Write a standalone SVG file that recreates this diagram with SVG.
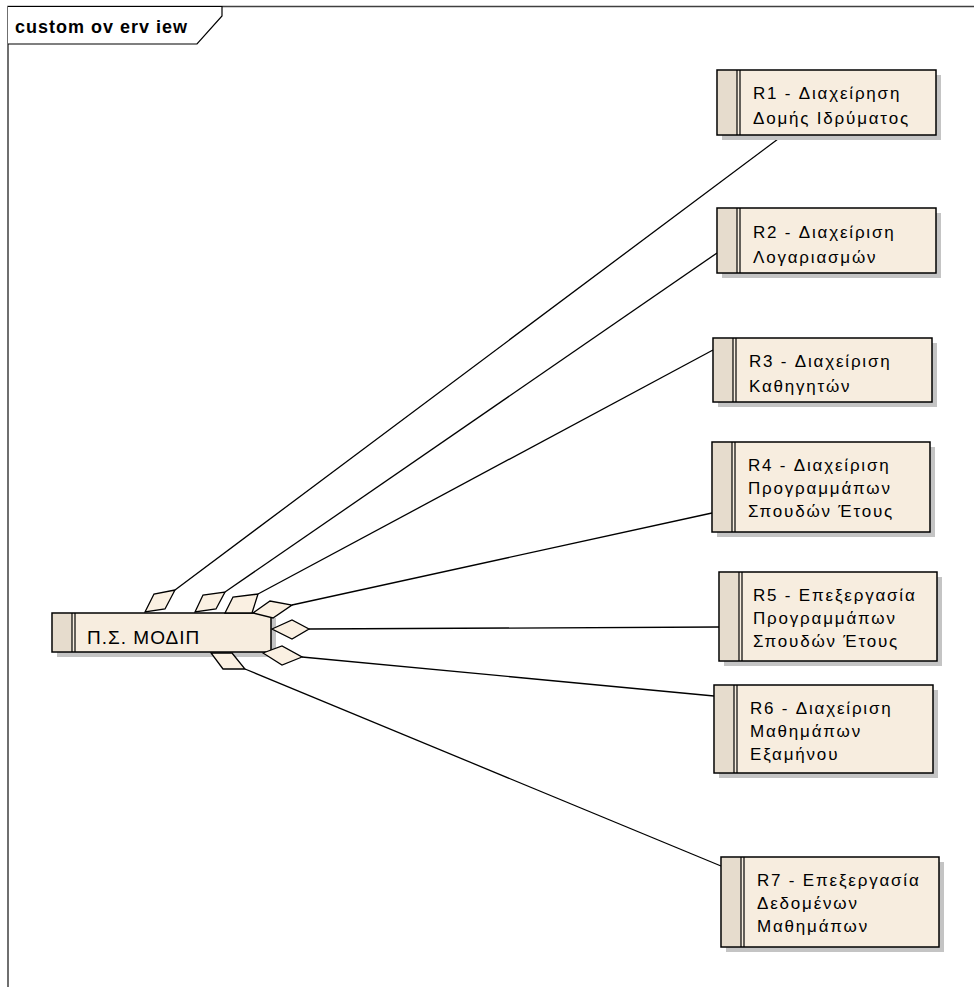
<svg xmlns="http://www.w3.org/2000/svg" width="974" height="987" viewBox="0 0 974 987">
<style>
.frame{fill:none;stroke:#404040;stroke-width:1.5}
.shadow{fill:#c4c4c4}
.body{fill:#f7eddf;stroke:#000;stroke-width:1.5}
.side{fill:#e6dccd;stroke:none}
.bar{stroke:#000;stroke-width:1.2}
.lbl{font-family:"Liberation Sans",Arial,sans-serif;font-size:17px;letter-spacing:1.8px;fill:#000}
.conn line{stroke:#000;stroke-width:1.3}
.dia{fill:#faf0e2;stroke:#000;stroke-width:1.3;stroke-linejoin:miter}
</style>
<rect width="974" height="987" fill="#fff"/>
<g id="frame">
<path class="frame" d="M8,987 V6.5 H974"/>
<path d="M8,6.5 H222 V16 L197,44 H8" fill="#fff" stroke="#000" stroke-width="1.2"/>
<text x="15" y="33" font-family="Liberation Sans,Arial,sans-serif" font-size="18" font-weight="bold" letter-spacing="1">custom ov erv iew</text>
</g>
<g id="connectors" class="conn">
<line x1="175" y1="590" x2="782" y2="136"/>
<line x1="225" y1="592" x2="717" y2="253"/>
<line x1="258" y1="594" x2="713" y2="350"/>
<line x1="292" y1="605" x2="712" y2="513"/>
<line x1="309" y1="629" x2="719" y2="627"/>
<line x1="302" y1="657" x2="714" y2="696"/>
<line x1="245" y1="669" x2="721" y2="866"/>
</g>
<g id="R1">
<rect class="shadow" x="722" y="75" width="219" height="65"/>
<rect class="body" x="717" y="70" width="219" height="65"/>
<rect class="side" x="718" y="71" width="19" height="63"/>
<line class="bar" x1="737" y1="70" x2="737" y2="135"/><line class="bar" x1="740" y1="70" x2="740" y2="135"/>
<text class="lbl" x="753" y="99">R1 - Διαχείρηση</text>
<text class="lbl" x="753" y="124">Δομής Ιδρύματος</text>
</g>
<g id="R2">
<rect class="shadow" x="722" y="213" width="219" height="65"/>
<rect class="body" x="717" y="208" width="219" height="65"/>
<rect class="side" x="718" y="209" width="19" height="63"/>
<line class="bar" x1="737" y1="208" x2="737" y2="273"/><line class="bar" x1="740" y1="208" x2="740" y2="273"/>
<text class="lbl" x="753" y="238">R2 - Διαχείριση</text>
<text class="lbl" x="753" y="263">Λογαριασμών</text>
</g>
<g id="R3">
<rect class="shadow" x="718" y="343" width="219" height="64"/>
<rect class="body" x="713" y="338" width="219" height="64"/>
<rect class="side" x="714" y="339" width="19" height="62"/>
<line class="bar" x1="733" y1="338" x2="733" y2="402"/><line class="bar" x1="736" y1="338" x2="736" y2="402"/>
<text class="lbl" x="749" y="367">R3 - Διαχείριση</text>
<text class="lbl" x="749" y="392">Καθηγητών</text>
</g>
<g id="R4">
<rect class="shadow" x="717" y="447" width="218" height="90"/>
<rect class="body" x="712" y="442" width="218" height="90"/>
<rect class="side" x="713" y="443" width="19" height="88"/>
<line class="bar" x1="732" y1="442" x2="732" y2="532"/><line class="bar" x1="735" y1="442" x2="735" y2="532"/>
<text class="lbl" x="748" y="471">R4 - Διαχείριση</text>
<text class="lbl" x="748" y="494">Προγραμμάπων</text>
<text class="lbl" x="748" y="517">Σπουδών Έτους</text>
</g>
<g id="R5">
<rect class="shadow" x="724" y="577" width="218" height="89"/>
<rect class="body" x="719" y="572" width="218" height="89"/>
<rect class="side" x="720" y="573" width="19" height="87"/>
<line class="bar" x1="739" y1="572" x2="739" y2="661"/><line class="bar" x1="742" y1="572" x2="742" y2="661"/>
<text class="lbl" x="753" y="601">R5 - Επεξεργασία</text>
<text class="lbl" x="753" y="624">Προγραμμάπων</text>
<text class="lbl" x="753" y="647">Σπουδών Έτους</text>
</g>
<g id="R6">
<rect class="shadow" x="719" y="690" width="219" height="88"/>
<rect class="body" x="714" y="685" width="219" height="88"/>
<rect class="side" x="715" y="686" width="19" height="86"/>
<line class="bar" x1="734" y1="685" x2="734" y2="773"/><line class="bar" x1="737" y1="685" x2="737" y2="773"/>
<text class="lbl" x="750" y="714">R6 - Διαχείριση</text>
<text class="lbl" x="750" y="737">Μαθημάπων</text>
<text class="lbl" x="750" y="760">Εξαμήνου</text>
</g>
<g id="R7">
<rect class="shadow" x="726" y="862" width="218" height="90"/>
<rect class="body" x="721" y="857" width="218" height="90"/>
<rect class="side" x="722" y="858" width="19" height="88"/>
<line class="bar" x1="741" y1="857" x2="741" y2="947"/><line class="bar" x1="744" y1="857" x2="744" y2="947"/>
<text class="lbl" x="757" y="886">R7 - Επεξεργασία</text>
<text class="lbl" x="757" y="909">Δεδομένων</text>
<text class="lbl" x="757" y="932">Μαθημάπων</text>
</g>
<g id="main">
<rect class="shadow" x="57" y="618" width="219" height="39"/>
<rect class="body" x="52" y="613" width="219" height="39"/>
<rect class="side" x="53" y="614" width="19" height="37"/>
<line class="bar" x1="72" y1="613" x2="72" y2="652"/><line class="bar" x1="75" y1="613" x2="75" y2="652"/>
<text class="lbl" x="87" y="644" style="font-size:19px;letter-spacing:1px">Π.Σ. ΜΟΔΙΠ</text>
</g>
<g id="diamonds">
<polygon class="dia" points="145,612 154,594 175,590 165,609"/>
<polygon class="dia" points="195,612 203,595 225,592 216,609"/>
<polygon class="dia" points="225,613 233,597 258,594 252,613"/>
<polygon class="dia" points="253,613 270,601 292,605 273,618"/>
<polygon class="dia" points="272,629 292,620 309,629 292,639"/>
<polygon class="dia" points="263,653 282,646 302,657 282,665"/>
<polygon class="dia" points="211,653 232,653 245,669 223,669"/>
</g>
</svg>
